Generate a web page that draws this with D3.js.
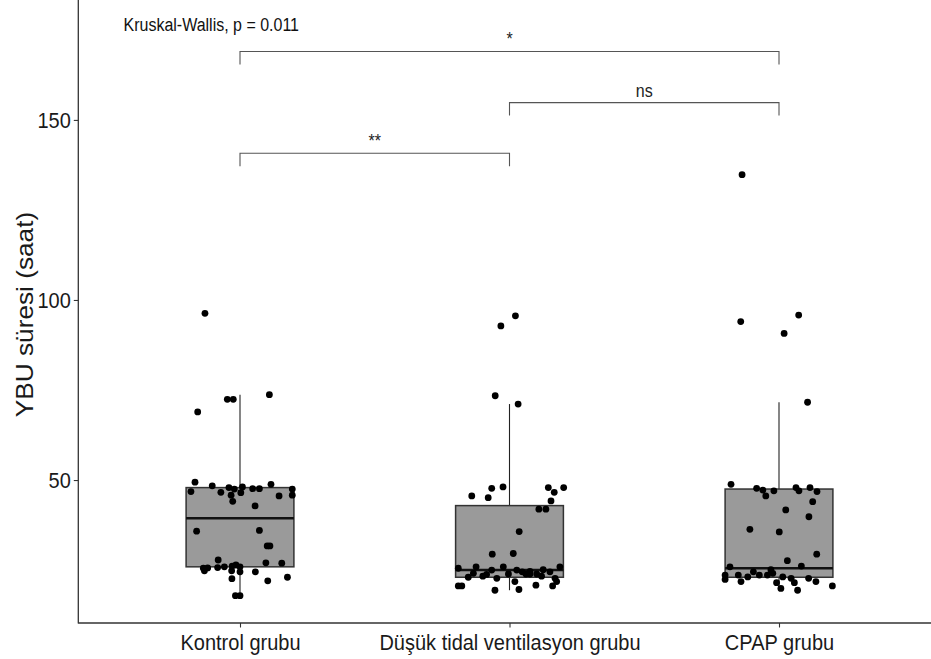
<!DOCTYPE html>
<html>
<head>
<meta charset="utf-8">
<script src="https://cdn.jsdelivr.net/npm/d3@7"></script>
<style>
  html, body { margin: 0; padding: 0; background: #fff; }
  svg { display: block; font-family: "Liberation Sans", Arial, sans-serif; }
</style>
</head>
<body>
<svg id="chart" width="931" height="659"></svg>
<script>
// ---------------- DATA ----------------
const categories = ["Kontrol grubu", "Düşük tidal ventilasyon grubu", "CPAP grubu"];

// box statistics (whisker low, Q1, median, Q3, whisker high)
const whiskerLow  = [17.9, 19.4, 19.4];
const q1Values    = [25.9, 23.0, 23.0];
const medianValues= [39.4, 25.0, 25.5];
const q3Values    = [47.9, 42.9, 47.5];
const whiskerHigh = [73.7, 71.1, 71.6];

// individual observations (value) and horizontal jitter (in category units)
const kontrolValues = [96.3,72.4,72.4,73.7,68.9,49.4,46.8,48.4,46.6,47.9,45.8,44.1,47.5,46.5,48.1,47.6,47.6,48.8,45.6,47.5,45.8,42.8,35.8,36.0,31.7,31.7,27.8,25.5,24.8,25.6,25.7,25.9,26.1,26.4,25.9,24.8,24.5,22.6,24.5,27.0,26.9,22.0,23.0,17.9,17.9];
const kontrolJitter = [-0.130,-0.047,-0.025,0.109,-0.157,-0.167,-0.182,-0.103,-0.071,-0.041,-0.033,-0.027,-0.021,0.003,0.009,0.047,0.072,0.115,0.145,0.194,0.194,0.056,-0.161,0.072,0.101,0.111,-0.081,-0.136,-0.132,-0.120,-0.083,-0.058,-0.029,-0.015,0.000,-0.031,0.000,-0.030,0.057,0.096,0.155,0.103,0.176,-0.017,0.000];

const dusukValues = [95.6,92.8,73.4,71.1,45.6,45.1,47.7,48.1,47.9,46.6,47.9,44.2,41.9,41.9,35.7,29.4,29.6,25.5,25.9,25.9,25.9,23.0,23.3,23.8,22.7,23.9,21.8,24.5,23.9,23.9,23.9,23.3,24.5,22.7,21.8,20.6,20.6,20.6,19.4,19.6,20.8,24.1,25.0,25.0,24.6,25.1];
const dusukJitter = [0.022,-0.032,-0.053,0.032,-0.140,-0.079,-0.066,-0.024,0.144,0.166,0.201,0.154,0.109,0.135,0.036,-0.064,0.014,-0.190,-0.124,-0.023,0.187,-0.153,-0.099,-0.085,-0.047,-0.004,0.020,0.047,0.061,0.076,0.101,0.119,0.150,0.169,0.175,0.160,-0.190,-0.177,-0.054,0.035,0.098,-0.134,-0.066,0.027,0.076,0.125];

const cpapValues = [134.8,94.0,95.8,90.7,71.6,48.8,47.7,47.2,45.6,47.0,47.9,47.0,47.9,46.8,44.0,41.7,39.8,36.3,35.6,29.4,27.6,26.1,25.9,23.6,22.4,23.6,21.8,23.1,24.5,23.6,23.6,25.1,24.1,21.5,19.9,23.1,22.7,21.5,19.4,22.7,21.8,20.6];
const cpapJitter = [-0.137,-0.142,0.073,0.019,0.106,-0.178,-0.083,-0.060,-0.049,-0.019,0.063,0.074,0.115,0.141,0.125,0.025,0.111,-0.108,0.001,0.140,0.031,0.083,-0.182,-0.200,-0.200,-0.151,-0.141,-0.116,-0.095,-0.073,-0.043,-0.030,-0.023,-0.009,0.007,0.014,0.045,0.057,0.069,0.110,0.137,0.198];

const yTicks = [50, 100, 150];

// pairwise comparisons
const compFrom   = [0, 1, 0];
const compTo     = [2, 2, 1];
const compY      = [169.0, 154.8, 140.75];
const compLabels = ["*", "ns", "**"];
const kruskalLabel = "Kruskal-Wallis, p = 0.011";
const yTitle = "YBU süresi (saat)";

// ---------------- LAYOUT ----------------
const svg = d3.select("#chart");
const plotLeft = 78.3, plotBottom = 623, plotTop = 0;
const textStretch = 1.1;

const x = d3.scalePoint().domain(categories).range([plotLeft, 940.7]).padding(0.6);
const step = x.step();
const y = d3.scaleLinear().domain([10.3, 183.3]).range([plotBottom, plotTop]);

const boxes = categories.map((c, i) => ({
  cat: c, lo: whiskerLow[i], q1: q1Values[i], med: medianValues[i], q3: q3Values[i], hi: whiskerHigh[i]
}));
const groups = [
  { cat: categories[0], vals: kontrolValues, jit: kontrolJitter },
  { cat: categories[1], vals: dusukValues, jit: dusukJitter },
  { cat: categories[2], vals: cpapValues, jit: cpapJitter }
];
const points = groups.flatMap(g => g.vals.map((v, i) => ({ cat: g.cat, v, j: g.jit[i] })));

const boxW = 0.4 * step;

// boxes
const bg = svg.append("g");
bg.selectAll("line.whisker").data(boxes).join("line")
  .attr("x1", d => x(d.cat)).attr("x2", d => x(d.cat))
  .attr("y1", d => y(d.hi)).attr("y2", d => y(d.q3))
  .attr("stroke", "#222").attr("stroke-width", 1.1);
bg.selectAll("line.whiskerlo").data(boxes).join("line")
  .attr("x1", d => x(d.cat)).attr("x2", d => x(d.cat))
  .attr("y1", d => y(d.q1)).attr("y2", d => y(d.lo))
  .attr("stroke", "#222").attr("stroke-width", 1.1);
bg.selectAll("rect").data(boxes).join("rect")
  .attr("x", d => x(d.cat) - boxW / 2).attr("width", boxW)
  .attr("y", d => y(d.q3)).attr("height", d => y(d.q1) - y(d.q3))
  .attr("fill", "#9a9a9a").attr("stroke", "#333").attr("stroke-width", 1.5);
bg.selectAll("line.median").data(boxes).join("line")
  .attr("x1", d => x(d.cat) - boxW / 2).attr("x2", d => x(d.cat) + boxW / 2)
  .attr("y1", d => y(d.med)).attr("y2", d => y(d.med))
  .attr("stroke", "#111").attr("stroke-width", 2.6);

// points
svg.append("g").selectAll("circle").data(points).join("circle")
  .attr("cx", d => x(d.cat) + d.j * step)
  .attr("cy", d => y(d.v))
  .attr("r", 3.4)
  .attr("fill", "#000");

// axes
const yAxis = d3.axisLeft(y).tickValues(yTicks).tickSize(4.5).tickPadding(3);
const yg = svg.append("g").attr("transform", `translate(${plotLeft},0)`).call(yAxis);
yg.select(".domain").remove();
yg.selectAll(".tick line").attr("stroke", "#333").attr("stroke-width", 1.1);
yg.selectAll(".tick text").remove();
yg.selectAll(".tick").append("text")
  .attr("transform", `translate(-7.5,0) scale(1,${textStretch})`)
  .attr("text-anchor", "end").attr("dy", "0.35em")
  .attr("fill", "#1a1a1a").attr("font-size", 20)
  .text(d => d);

const xAxis = d3.axisBottom(x).tickSize(4.5);
const xg = svg.append("g").attr("transform", `translate(0,${plotBottom})`).call(xAxis);
xg.select(".domain").remove();
xg.selectAll(".tick line").attr("stroke", "#333").attr("stroke-width", 1.1);
xg.selectAll(".tick text").remove();
xg.selectAll(".tick").append("text")
  .attr("transform", `translate(0,27) scale(1,${textStretch})`)
  .attr("text-anchor", "middle")
  .attr("fill", "#1a1a1a").attr("font-size", 20)
  .text(d => d);

// axis lines
svg.append("line").attr("x1", plotLeft).attr("x2", plotLeft).attr("y1", 0).attr("y2", plotBottom + 0.5)
  .attr("stroke", "#333").attr("stroke-width", 1.3);
svg.append("line").attr("x1", plotLeft).attr("x2", 931).attr("y1", plotBottom).attr("y2", plotBottom)
  .attr("stroke", "#333").attr("stroke-width", 1.3);

// y title
svg.append("text")
  .attr("transform", `translate(33,${(y.range()[0] + y.range()[1]) / 2 + 3}) rotate(-90) scale(1.14,1)`)
  .attr("text-anchor", "middle").attr("font-size", 23).attr("fill", "#1a1a1a")
  .text(yTitle);

// comparison brackets
const tip = 3.6;
const comps = compFrom.map((f, i) => ({ a: categories[f], b: categories[compTo[i]], yv: compY[i], label: compLabels[i] }));
const cg = svg.append("g");
cg.selectAll("path").data(comps).join("path")
  .attr("d", d => `M${x(d.a)},${y(d.yv - tip)}V${y(d.yv)}H${x(d.b)}V${y(d.yv - tip)}`)
  .attr("fill", "none").attr("stroke", "#555").attr("stroke-width", 1.1);
cg.selectAll("text").data(comps).join("text")
  .attr("transform", d => `translate(${(x(d.a) + x(d.b)) / 2},${y(d.yv) - 6}) scale(1,${textStretch})`)
  .attr("text-anchor", "middle").attr("font-size", 16).attr("fill", "#222")
  .text(d => d.label);

// Kruskal-Wallis label
svg.append("text")
  .attr("transform", `translate(${x(categories[0]) - 0.432 * step},30.7) scale(1,${textStretch})`)
  .attr("font-size", 16).attr("fill", "#111")
  .text(kruskalLabel);
</script>
</body>
</html>
